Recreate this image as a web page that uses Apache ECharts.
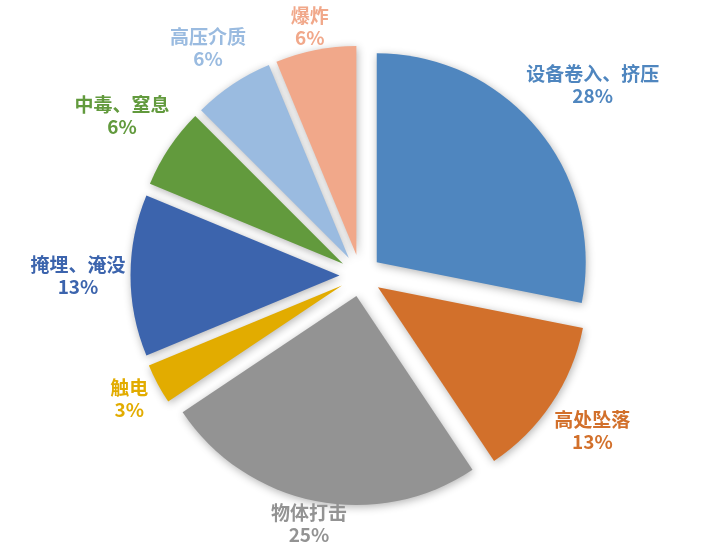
<!DOCTYPE html>
<html>
<head>
<meta charset="utf-8">
<script src="https://cdn.jsdelivr.net/npm/echarts@6/dist/echarts.min.js"></script>
<style>
  html, body { margin: 0; padding: 0; background: #fff; }
  #main { width: 721px; height: 551px; }
</style>
</head>
<body>
<div id="main"></div>
<script>
// 事故类别
var categories = ['设备卷入、挤压', '高处坠落', '物体打击', '触电', '掩埋、淹没', '中毒、窒息', '高压介质', '爆炸'];
// 事故起数
var counts = [9, 4, 8, 1, 4, 2, 2, 2];
var colors = ['#4f86bf', '#d2702b', '#939393', '#e2ac00', '#3c64ad', '#629a3d', '#9abbe0', '#f1a88a'];

var R = 209;       // 半径
var OFFSET = 21;   // 扇区分离距离
var GAP = 5;       // 标签与扇区的距离
var EDGE = 5;      // 标签离画布上下边的最小距离

var chart = echarts.init(document.getElementById('main'));

// 每个扇区中线的角度（从正上方顺时针）
var total = counts.reduce(function (a, b) { return a + b; }, 0);
var midAngles = [];
var acc = 0;
counts.forEach(function (v) {
  midAngles.push((acc + v / 2) / total * Math.PI * 2);
  acc += v;
});

// 标签沿扇区中线放在外侧，文字居中
function placeLabel(params) {
  var a = midAngles[params.dataIndex];
  var ux = Math.sin(a), uy = -Math.cos(a);
  var w = params.labelRect.width / 2, h = params.labelRect.height / 2;
  var d = R + OFFSET + GAP + Math.abs(ux) * w + Math.abs(uy) * h;
  var cx = chart.getWidth() / 2, cy = chart.getHeight() / 2;
  var y = cy + uy * d;
  y = Math.max(h + EDGE, Math.min(chart.getHeight() - h - EDGE, y));
  return { x: cx + ux * d, y: y, align: 'center', verticalAlign: 'middle' };
}

// 扇区（全部分离）
var sliceData = categories.map(function (name, i) {
  return { name: name, value: counts[i], selected: true, itemStyle: { color: colors[i] } };
});
// 标签用的透明扇区
var labelData = categories.map(function (name, i) {
  return { name: name, value: counts[i], label: { color: colors[i] } };
});

var option = {
  animation: false,
  series: [{
    name: '事故类别',
    type: 'pie',
    center: ['50%', '50%'],
    radius: [0, R],
    startAngle: 90,
    clockwise: true,
    selectedMode: 'multiple',
    selectedOffset: OFFSET,
    itemStyle: {
      borderWidth: 0,
      shadowBlur: 8,
      shadowColor: 'rgba(0,0,0,0.3)',
      shadowOffsetX: 1,
      shadowOffsetY: 2
    },
    label: { show: false },
    labelLine: { show: false },
    emphasis: { disabled: true },
    data: sliceData
  }, {
    name: '标签',
    type: 'pie',
    center: ['50%', '50%'],
    radius: [0, R],
    startAngle: 90,
    clockwise: true,
    silent: true,
    z: 3,
    avoidLabelOverlap: false,
    itemStyle: { color: 'rgba(0,0,0,0)', borderWidth: 0 },
    label: {
      show: true,
      position: 'outside',
      fontFamily: 'Noto Sans CJK SC',
      fontWeight: 'bold',
      fontSize: 19,
      lineHeight: 22,
      formatter: function (p) {
        return p.name + '\n' + Math.round(p.percent) + '%';
      }
    },
    labelLine: { show: false },
    labelLayout: placeLabel,
    emphasis: { disabled: true },
    data: labelData
  }]
};
chart.setOption(option);
</script>
</body>
</html>
